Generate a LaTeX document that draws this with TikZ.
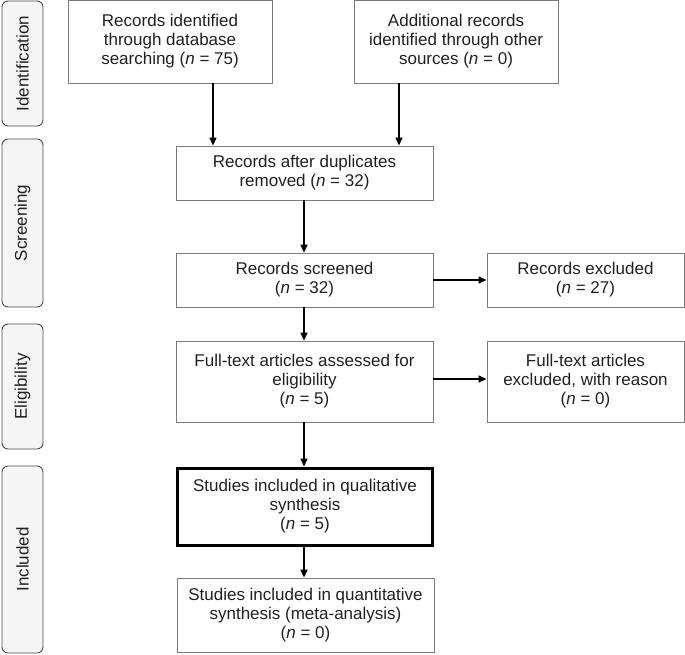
\documentclass[tikz,border=0pt]{standalone}
\usepackage{fontspec}
\setmainfont{Liberation Sans}
\usetikzlibrary{arrows.meta}
\definecolor{txt}{HTML}{231F20}
\definecolor{boxline}{HTML}{7A7A7A}
\definecolor{sidefill}{HTML}{F4F5F4}
\definecolor{sideline}{HTML}{4A4A4A}
\tikzset{
  flowbox/.style={draw=boxline, line width=0.9pt, align=center, text=txt, inner sep=0pt,
    font=\fontsize{17}{19}\selectfont},
  thickbox/.style={flowbox, draw=black, line width=3pt},
  sidebox/.style={draw=sideline, fill=sidefill, line width=0.9pt, rounded corners=6pt,
    rotate=90, text=txt, inner sep=0pt, font=\fontsize{17}{19}\selectfont},
  arr/.style={draw=black, line width=1.4pt, -{Triangle[length=8pt,width=7pt]}},
}
\newcommand{\nn}{\textit{n}}
\begin{document}
\begin{tikzpicture}[x=1pt,y=-1pt]
\useasboundingbox (0,0) rectangle (685,654);
% side labels
\node[sidebox, minimum width=125pt, minimum height=41pt] (s1) at (22.5,63.5) {Identification};
\node[sidebox, minimum width=168pt, minimum height=41pt] (s2) at (22.5,223) {Screening};
\node[sidebox, minimum width=125pt, minimum height=41pt] (s3) at (22.5,386.5) {Eligibility};
\node[sidebox, minimum width=187pt, minimum height=41pt] (s4) at (22.5,559.5) {Included};
% flow boxes
\node[flowbox, minimum width=204pt, minimum height=83pt] (A) at (170,41.5)
  {Records identified\\through database\\searching (\nn{} = 75)};
\node[flowbox, minimum width=204pt, minimum height=83pt] (B) at (456,41.5)
  {Additional records\\identified through other\\sources (\nn{} = 0)};
\node[flowbox, minimum width=257pt, minimum height=54pt] (C) at (304.5,173)
  {Records after duplicates\\removed (\nn{} = 32)};
\node[flowbox, minimum width=257pt, minimum height=54pt] (D) at (304.5,280)
  {Records screened\\(\nn{} = 32)};
\node[flowbox, minimum width=197pt, minimum height=54pt] (E) at (585.5,280)
  {Records excluded\\(\nn{} = 27)};
\node[flowbox, minimum width=257pt, minimum height=81pt] (F) at (304.5,381.5)
  {Full-text articles assessed for\\eligibility\\(\nn{} = 5)};
\node[flowbox, minimum width=197pt, minimum height=81pt] (G) at (585.5,381.5)
  {Full-text articles\\excluded, with reason\\(\nn{} = 0)};
\node[thickbox, minimum width=255pt, minimum height=77pt] (H) at (305,506.5)
  {Studies included in qualitative\\synthesis\\(\nn{} = 5)};
\node[flowbox, minimum width=257pt, minimum height=74pt] (I) at (305.5,615)
  {Studies included in quantitative\\synthesis (meta-analysis)\\(\nn{} = 0)};
% connectors
\coordinate (ax) at (213,0);
\coordinate (bx) at (399,0);
\coordinate (cx) at (304,0);
\draw[arr] (A.south -| ax) -- (C.north -| ax);
\draw[arr] (B.south -| bx) -- (C.north -| bx);
\draw[arr] (C.south -| cx) -- (D.north -| cx);
\draw[arr] (D.east) -- (E.west);
\draw[arr] (D.south -| cx) -- (F.north -| cx);
\draw[arr] (F.east |- 0,379) -- (G.west |- 0,379);
\draw[arr] (F.south -| cx) -- (H.north -| cx);
\draw[arr] (H.south -| cx) -- (I.north -| cx);
\end{tikzpicture}
\end{document}
